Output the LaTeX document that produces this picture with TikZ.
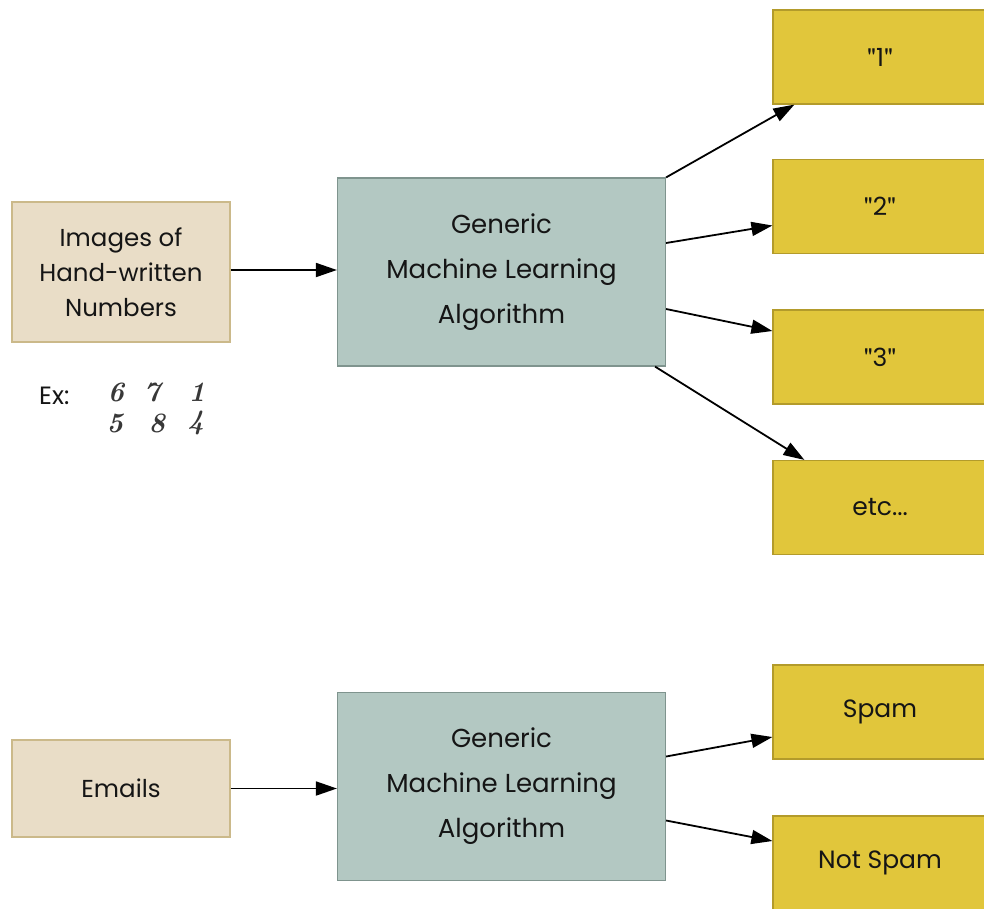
\documentclass[tikz,border=0pt]{standalone}
\usepackage{fontspec}
\setmainfont{Poppins}
\newfontfamily\quotefont{TeX Gyre Heros}
\newfontfamily\handfont{Latin Modern Roman}
\usetikzlibrary{arrows.meta}
\definecolor{tanfill}{HTML}{E9DDC7}
\definecolor{tanline}{HTML}{CBB98A}
\definecolor{genfill}{HTML}{B3C8C2}
\definecolor{genline}{HTML}{7F948E}
\definecolor{yelfill}{HTML}{E1C63B}
\definecolor{yelline}{HTML}{B39B2B}
\definecolor{inkc}{HTML}{151515}
\newcommand{\qq}[1]{{\quotefont"}#1{\quotefont"}}
\begin{document}
\begin{tikzpicture}[x=1pt,y=-1pt,
  box/.style={rectangle,draw,line width=1.2pt,inner sep=0pt,align=center,text=inkc},
  inbox/.style={box,fill=tanfill,draw=tanline,minimum width=218pt,font=\fontsize{24.5}{35}\selectfont},
  genbox/.style={box,fill=genfill,draw=genline,minimum width=328pt,minimum height=188pt,font=\fontsize{26}{45}\selectfont},
  outbox/.style={box,fill=yelfill,draw=yelline,minimum width=214pt,minimum height=94pt,font=\fontsize{25}{28}\selectfont},
  hand/.style={text=inkc!85,font=\fontsize{28}{28}\handfont\bfseries\itshape,inner sep=0pt},
  link/.style={draw=black,line width=1.8pt,-{Triangle[length=21pt,width=14pt]}}]
\useasboundingbox (0,0) rectangle (984,908);
\fill[white] (0,0) rectangle (984,908);
% top row
\node[inbox,minimum height=140pt] (img) at (121,272) {Images of\\Hand-written\\Numbers};
\node[genbox] (gen1) at (501.5,272) {Generic\\Machine Learning\\Algorithm};
\node[outbox] (o1) at (880,57) {\qq{1}};
\node[outbox] (o2) at (880,206.5) {\qq{2}};
\node[outbox] (o3) at (880,357) {\qq{3}};
\node[outbox] (o4) at (880,507.5) {etc...};
% examples
\node[anchor=west,text=inkc,font=\fontsize{25}{28}\selectfont,inner sep=0pt] (ex) at (39,396) {Ex:};
\node[hand] (d6) at (116,392) {6};
\node[hand] (d7) at (152,392) {7};
\node[hand] (d1) at (197,392) {1};
\node[hand] (d5) at (115,423) {5};
\node[hand] (d8) at (157,423) {8};
\node[hand] (d4) at (196,423) {4};
% bottom row
\node[inbox,minimum height=97pt] (mail) at (121,788.5) {Emails};
\node[genbox] (gen2) at (501.5,786.5) {Generic\\Machine Learning\\Algorithm};
\node[outbox] (spam) at (880,712) {Spam};
\node[outbox] (nspam) at (880,863) {Not Spam};
% connectors
\draw[link] ([yshift=2pt]img.east) -- ([yshift=2pt]gen1.west);
\draw[link] (gen1.north east) -- ([xshift=22pt]o1.south west);
\draw[link] ([yshift=29pt]gen1.east) -- ([yshift=-19pt]o2.west);
\draw[link] ([yshift=-37pt]gen1.east) -- ([yshift=26pt]o3.west);
\draw[link] ([xshift=-11pt]gen1.south east) -- ([xshift=32pt]o4.north west);
\draw[link] (mail.east) -- ([yshift=-2pt]gen2.west);
\draw[link] ([yshift=30pt]gen2.east) -- ([yshift=-25pt]spam.west);
\draw[link] ([yshift=-34pt]gen2.east) -- ([yshift=22pt]nspam.west);
\end{tikzpicture}
\end{document}
